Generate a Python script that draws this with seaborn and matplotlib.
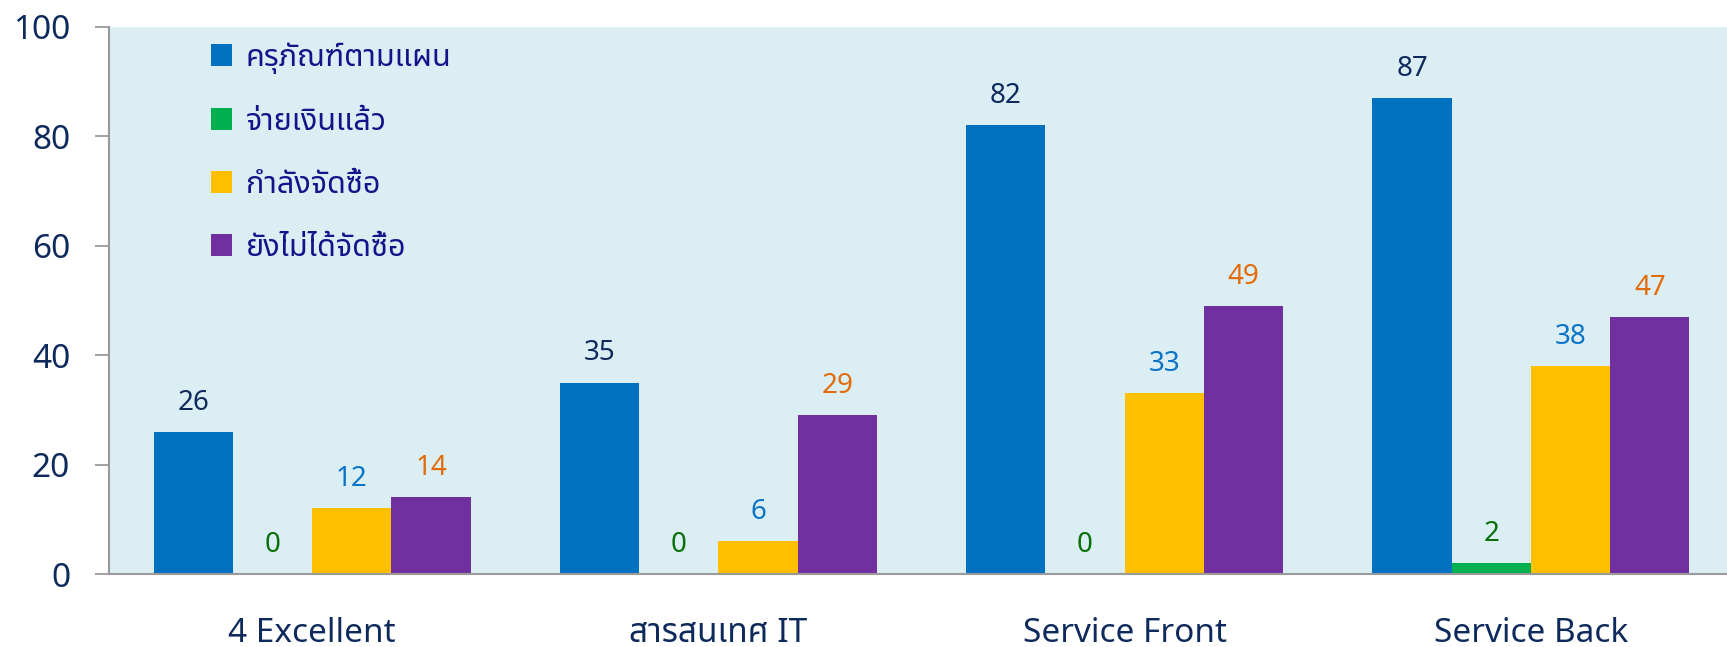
import pandas as pd
import matplotlib.pyplot as plt
import seaborn as sns
from matplotlib import font_manager
from matplotlib.ft2font import FT2Font

# Data
categories = ['4 Excellent', 'สารสนเทศ IT', 'Service Front', 'Service Back']
series_names = ['ครุภัณฑ์ตามแผน', 'จ่ายเงินแล้ว', 'กำลังจัดซื้อ', 'ยังไม่ได้จัดซื้อ']
planned = [26, 35, 82, 87]
paid = [0, 0, 0, 2]
buying = [12, 6, 33, 38]
not_bought = [14, 29, 49, 47]

bar_colors = ['#0070C0', '#00B050', '#FFC000', '#7030A0']
label_colors = ['#0E2A5C', '#0A700A', '#0A74C8', '#E36C09']
navy = '#0E2A5C'
legend_navy = '#13138A'


def find_thai_font():
    """Pick an installed family that has Thai glyphs."""
    preferred = ['Noto Sans Thai', 'Noto Sans Thai Looped', 'Sarabun', 'Kanit', 'Prompt',
                 'Loma', 'Garuda', 'Norasi', 'Waree', 'Laksaman']
    found = {}
    for f in font_manager.fontManager.ttflist:
        try:
            cmap = FT2Font(f.fname).get_charmap()
        except Exception:
            continue
        if 0x0E04 in cmap and 0x0E31 in cmap:
            found[f.name] = f.fname
    for name in preferred:
        if name in found:
            return name
    return sorted(found)[0] if found else None


thai = find_thai_font()

df = pd.DataFrame({
    'category': categories * 4,
    'series': [s for s in series_names for _ in categories],
    'value': planned + paid + buying + not_bought,
})

sns.set_style('white')
families = ([thai] if thai else []) + ['DejaVu Sans']
plt.rcParams['font.family'] = families

fig = plt.figure(figsize=(17.27, 6.47), dpi=100)
ax = fig.add_axes([0.0631, 0.1128, 0.941, 0.8455])
ax.set_facecolor('#DBEEF4')

sns.barplot(data=df, x='category', y='value', hue='series', order=categories,
            hue_order=series_names, palette=bar_colors, width=0.78,
            saturation=1, linewidth=0, errorbar=None, ax=ax)

for cont, col in zip(ax.containers, label_colors):
    ax.bar_label(cont, labels=[f'{v:.0f}' for v in cont.datavalues],
                 padding=11, color=col, fontsize=20)

ax.set_ylim(0, 100)
ax.set_xlim(-0.5, 3.5)
ax.set_yticks(range(0, 101, 20))
ax.set_xlabel('')
ax.set_ylabel('')

# category labels centred, tick marks at group boundaries
ax.set_xticks(range(len(categories)))
ax.set_xticklabels(categories)
ax.tick_params(axis='x', length=0, pad=31, labelsize=24, labelcolor=navy)
ax.set_xticks([-0.5, 0.5, 1.5, 2.5, 3.5], minor=True)
ax.tick_params(axis='x', which='minor', length=10, width=1.3, color='#9A9A9A', direction='out')
ax.tick_params(axis='y', length=10, width=1.3, color='#9A9A9A', pad=18,
               labelsize=24, labelcolor=navy, left=True)

for side in ['top', 'right']:
    ax.spines[side].set_visible(False)
for side in ['left', 'bottom']:
    ax.spines[side].set_color('#9A9A9A')
    ax.spines[side].set_linewidth(1.5)

leg = ax.legend(loc='upper left', bbox_to_anchor=(0.055, 0.995), frameon=False,
                fontsize=22, labelspacing=1.08, handlelength=0.7, handleheight=0.7,
                handletextpad=0.45, borderaxespad=0)
for t in leg.get_texts():
    t.set_color(legend_navy)

fig.savefig('out.png', dpi=100)
